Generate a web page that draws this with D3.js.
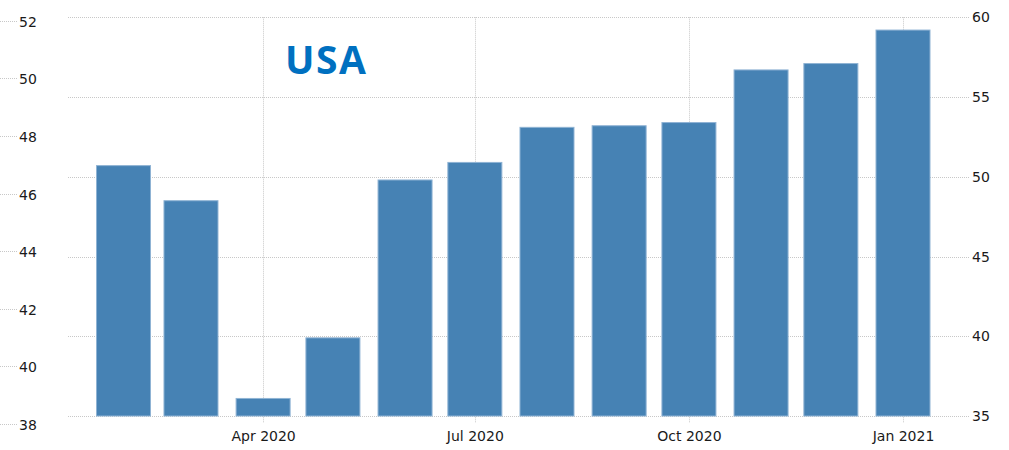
<!DOCTYPE html>
<html>
<head>
<meta charset="utf-8">
<script src="https://cdn.jsdelivr.net/npm/d3@7"></script>
<style>
  html, body { margin: 0; padding: 0; background: #fff; }
  svg { display: block; }
</style>
</head>
<body>
<svg id="chart" width="1009" height="450"></svg>
<script>
// ---- data ----
const months = ["2020-02-01","2020-03-01","2020-04-01","2020-05-01","2020-06-01","2020-07-01",
                "2020-08-01","2020-09-01","2020-10-01","2020-11-01","2020-12-01","2021-01-01"];
const values = [50.7, 48.5, 36.1, 39.9, 49.8, 50.9, 53.1, 53.2, 53.4, 56.7, 57.1, 59.2];
const xTickDates = ["2020-04-01","2020-07-01","2020-10-01","2021-01-01"];
const rightTicks = [35, 40, 45, 50, 55, 60];
const leftTicks = [38, 40, 42, 44, 46, 48, 50, 52];
const title = "USA";

const parse = d3.utcParse("%Y-%m-%d");
const fmt = d3.utcFormat("%b %Y");

const svg = d3.select("#chart");
const plotL = 68, plotR = 970, plotT = 17.3, plotB = 416;

const x = d3.scaleUtc()
  .domain([parse("2020-02-01"), parse("2021-01-01")])
  .range([123.5, 903]);
const y = d3.scaleLinear().domain([35, 60]).range([plotB, plotT]);
const yLeft = d3.scaleLinear().domain([38, 52]).range([425, 21.7]);

const gridColor = "#c8c8c8";
const font = "Tahoma, 'DejaVu Sans', sans-serif";
const fs = 14;

// horizontal gridlines (right axis)
svg.append("g").selectAll("line").data(rightTicks).join("line")
  .attr("x1", plotL).attr("x2", plotR)
  .attr("y1", d => Math.round(y(d)) + 0.5).attr("y2", d => Math.round(y(d)) + 0.5)
  .attr("stroke", gridColor).attr("stroke-width", 1).attr("stroke-dasharray", "1,1");

// vertical gridlines at x ticks
svg.append("g").selectAll("line").data(xTickDates.map(parse)).join("line")
  .attr("x1", d => Math.round(x(d)) + 0.5).attr("x2", d => Math.round(x(d)) + 0.5)
  .attr("y1", plotT).attr("y2", plotB + 7)
  .attr("stroke", gridColor).attr("stroke-width", 1).attr("stroke-dasharray", "1,1");

// bars
const barW = 54;
svg.append("g").selectAll("rect").data(months.map((m, i) => ({d: parse(m), v: values[i]}))).join("rect")
  .attr("x", d => x(d.d) - barW / 2)
  .attr("width", barW)
  .attr("y", d => y(d.v))
  .attr("height", d => y(35) - y(d.v))
  .attr("fill", "#4682b4")
  .attr("stroke", "#8fb3d4")
  .attr("stroke-width", 1);

// bottom axis
const xAxis = d3.axisBottom(x).tickValues(xTickDates.map(parse)).tickFormat(fmt).tickSize(0).tickPadding(9);
const gx = svg.append("g").attr("transform", `translate(0,${plotB + 6})`).call(xAxis);
gx.select(".domain").remove();
gx.selectAll("text").attr("font-family", font).attr("font-size", fs).attr("fill", "#1a1a1a");

// right axis
const yAxisR = d3.axisRight(y).tickValues(rightTicks).tickSize(0).tickPadding(0);
const gr = svg.append("g").attr("transform", `translate(972,0)`).call(yAxisR);
gr.select(".domain").remove();
gr.selectAll("text").attr("font-family", font).attr("font-size", fs).attr("fill", "#1a1a1a");

// left axis (separate scale)
const yAxisL = d3.axisRight(yLeft).tickValues(leftTicks).tickSize(0).tickPadding(0);
const gl = svg.append("g").attr("transform", `translate(19,0)`).call(yAxisL);
gl.select(".domain").remove();
gl.selectAll("text").attr("font-family", font).attr("font-size", fs).attr("fill", "#1a1a1a");
svg.append("g").selectAll("line").data(leftTicks).join("line")
  .attr("x1", 0).attr("x2", 17)
  .attr("y1", d => Math.round(yLeft(d)) - 0.5).attr("y2", d => Math.round(yLeft(d)) - 0.5)
  .attr("stroke", gridColor).attr("stroke-dasharray", "1,1");

// title
svg.append("text")
  .attr("x", 285).attr("y", 73.5)
  .attr("font-family", "'Open Sans', sans-serif")
  .attr("font-weight", "bold")
  .attr("font-size", 39)
  .attr("letter-spacing", 1.5)
  .attr("fill", "#0070c0")
  .text(title);
</script>
</body>
</html>
